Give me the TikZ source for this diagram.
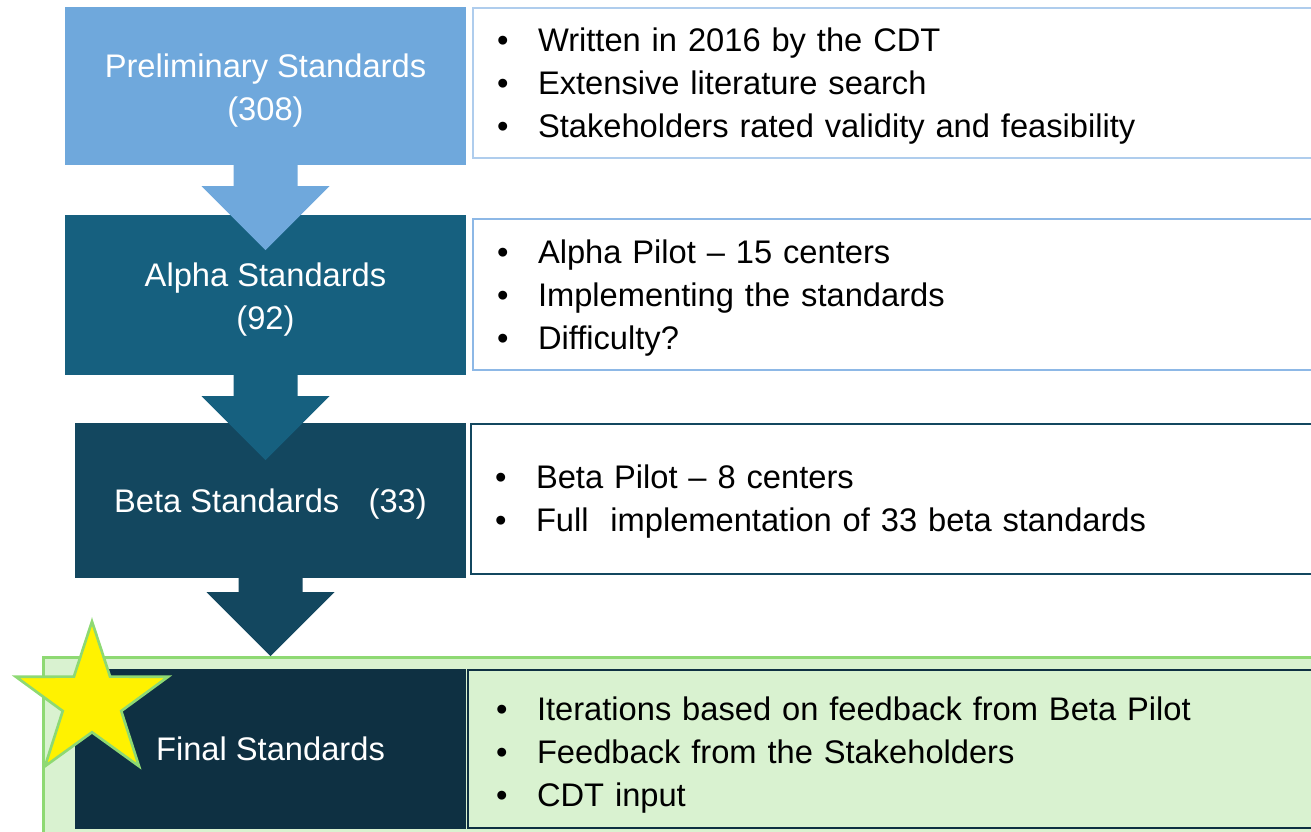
\documentclass[tikz,border=0pt]{standalone}
\usepackage{fontspec}
\setmainfont{Liberation Sans}
\usetikzlibrary{positioning, calc, shapes.geometric}
\definecolor{prelimblue}{HTML}{6FA8DC}
\definecolor{alphablue}{HTML}{16607F}
\definecolor{betablue}{HTML}{13475F}
\definecolor{finalblue}{HTML}{0E3042}
\definecolor{palegreen}{HTML}{D9F2D0}
\definecolor{edgegreen}{HTML}{8ED973}
\definecolor{lineblue}{HTML}{8DB8E6}
\tikzset{
    stagebox/.style = {rectangle, anchor=north west, outer sep=0pt, inner sep=0pt,
        text=white, align=center, font=\fontsize{24.5}{32.25}\selectfont},
    notebox/.style = {rectangle, draw, line width=1.1pt, anchor=north west, outer sep=0pt,
        inner xsep=18pt, inner ysep=0pt, minimum width=642pt, text width=606pt,
        align=left, font=\fontsize{24.5}{32.25}\selectfont},
}
\tikzset{
    stagearrow/.style = {to path={(\tikztostart) -- ++(-32,0) |- ($(\tikztotarget)+(-64,-64)$)
        -- (\tikztotarget) -- ++(64,-64) -- ++(-32,0) |- (\tikztostart) -- cycle}},
}
\newcommand{\bitem}{\makebox[30.75pt][l]{\textbullet}}
\newcommand{\lift}[1]{\rule{0pt}{#1}}

\begin{document}
\begin{tikzpicture}[x=0.75pt, y=-0.75pt]
    \useasboundingbox (0,0) rectangle (1311,832);

    % highlight behind the last stage
    \draw[fill=palegreen, draw=edgegreen, line width=2.25pt] (43,657) rectangle (1330,850);

    \node[stagebox, fill=prelimblue, minimum width=300.75pt, minimum height=118.5pt] (prelim) at (65,7) {\lift{23.9pt}Preliminary Standards\\(308)};
    \node[stagebox, fill=alphablue, minimum width=300.75pt, minimum height=120pt] (alpha) at (65,215) {\lift{23.9pt}Alpha Standards\\(92)};
    \node[stagebox, fill=betablue, minimum width=293.25pt, minimum height=116.25pt] (beta) at (75,423) {\lift{22.4pt}Beta Standards\hspace{0.9em}(33)};
    \node[stagebox, fill=finalblue, minimum width=293.25pt, minimum height=120pt] (final) at (75,669) {Final Standards};

    \node[notebox, draw=lineblue!70, minimum height=112.5pt] (prelimnote) at (473,8)
        {\lift{22.4pt}\bitem Written in 2016 by the CDT\\ \bitem Extensive literature search\\ \bitem Stakeholders rated validity and feasibility};
    \node[notebox, draw=lineblue, minimum height=113.25pt] (alphanote) at (473,219)
        {\lift{22.4pt}\bitem Alpha Pilot -- 15 centers\\ \bitem Implementing the standards\\ \bitem Difficulty?};
    \node[notebox, draw=betablue, minimum height=112.5pt] (betanote) at (471,424)
        {\lift{20.9pt}\bitem Beta Pilot -- 8 centers\\ \bitem Full~ implementation of 33 beta standards};
    \node[notebox, draw=finalblue, minimum height=118.5pt, inner xsep=21pt, text width=600pt] (finalnote) at (468,670)
        {\lift{26.9pt}\bitem Iterations based on feedback from Beta Pilot\\ \bitem Feedback from the Stakeholders\\ \bitem CDT input};

    \coordinate (tip1) at ($(prelim.south)+(0,85)$);
    \coordinate (tip2) at ($(alpha.south)+(0,85)$);
    \coordinate (tip3) at ($(beta.south)+(0,78)$);

    \fill[prelimblue] (prelim.south) to[stagearrow] (tip1);
    \fill[alphablue] (alpha.south) to[stagearrow] (tip2);
    \fill[betablue] (beta.south) to[stagearrow] (tip3);

    \node[star, star points=5, star point ratio=2.6, minimum size=120pt, inner sep=0pt,
        fill=yellow, draw=edgegreen, line width=2pt] (mark) at (92,701.5) {};
\end{tikzpicture}
\end{document}
